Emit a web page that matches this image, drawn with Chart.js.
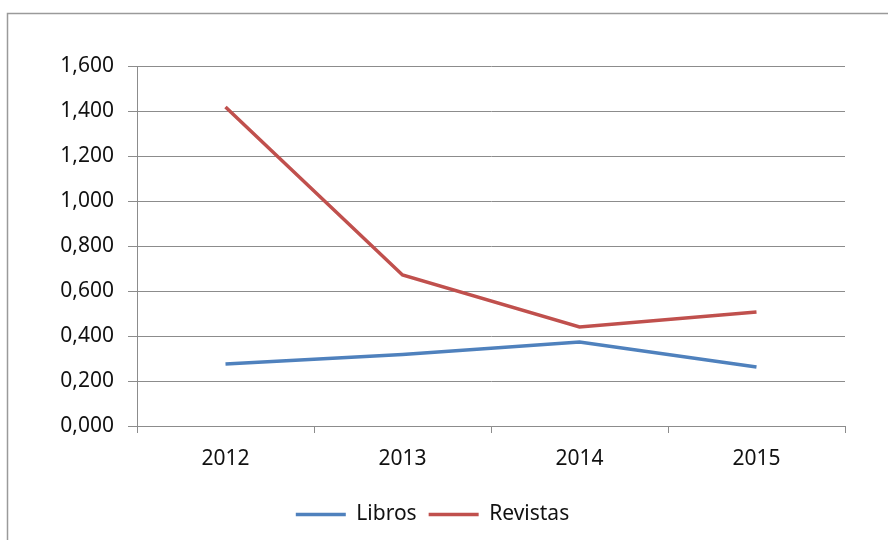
<!DOCTYPE html>
<html>
<head>
<meta charset="utf-8">
<script src="https://cdn.jsdelivr.net/npm/chart.js@4"></script>
<style>
  html, body { margin: 0; padding: 0; background: #fff; }
  #wrap { width: 888px; height: 540px; }
</style>
</head>
<body>
<div id="wrap"><canvas id="myChart"></canvas></div>
<script>
// Data
const years = ['2012', '2013', '2014', '2015'];
const libros = [0.276, 0.318, 0.373, 0.262];
const revistas = [1.418, 0.671, 0.440, 0.507];
const yTickLabels = ['0,000', '0,200', '0,400', '0,600', '0,800', '1,000', '1,200', '1,400', '1,600'];

const font = '"Noto Sans", sans-serif';
const gridGray = '#8c8c8c';

// Grey frame around the whole chart, like the spreadsheet export
const frame = {
  id: 'frame',
  beforeDraw(chart) {
    const ctx = chart.ctx;
    ctx.save();
    ctx.fillStyle = '#fff';
    ctx.fillRect(0, 0, chart.width, chart.height);
    ctx.strokeStyle = '#9a9a9a';
    ctx.lineWidth = 1.5;
    ctx.strokeRect(7.5, 13.5, chart.width + 20, chart.height + 20);
    ctx.restore();
  }
};

const data = {
  labels: years,
  datasets: [{
    label: 'Libros',
    data: libros,
    borderColor: '#4f81bd',
    backgroundColor: '#4f81bd',
    borderWidth: 3.5,
    pointRadius: 0,
    tension: 0
  }, {
    label: 'Revistas',
    data: revistas,
    borderColor: '#c0504d',
    backgroundColor: '#c0504d',
    borderWidth: 3.5,
    pointRadius: 0,
    tension: 0
  }]
};

const options = {
  responsive: true,
  maintainAspectRatio: false,
  animation: false,
  events: [],
  layout: { padding: { left: 20, right: 43, top: 66, bottom: 5 } },
  plugins: {
    tooltip: { enabled: false },
    legend: {
      position: 'bottom',
      labels: {
        usePointStyle: true,
        pointStyle: 'line',
        pointStyleWidth: 50,
        color: '#111',
        padding: 12,
        font: { family: font, size: 21 }
      }
    }
  },
  scales: {
    x: {
      offset: true,
      grid: {
        offset: true,
        drawOnChartArea: false,
        color: gridGray,
        tickLength: 7
      },
      border: { color: gridGray, width: 1 },
      ticks: {
        color: '#111',
        padding: 13,
        font: { family: font, size: 21 }
      },
      afterFit: function(scale) { scale.height = 66; }
    },
    y: {
      min: 0,
      max: 1.6,
      ticks: {
        stepSize: 0.2,
        color: '#111',
        padding: 14,
        font: { family: font, size: 21 },
        callback: function(value, index) {
          return yTickLabels[index];
        }
      },
      grid: { color: gridGray, tickLength: 9 },
      border: { color: gridGray, width: 1 },
      afterFit: function(scale) { scale.width = 117; }
    }
  }
};

new Chart(document.getElementById('myChart'), {
  type: 'line',
  data: data,
  options: options,
  plugins: [frame]
});
</script>
</body>
</html>
